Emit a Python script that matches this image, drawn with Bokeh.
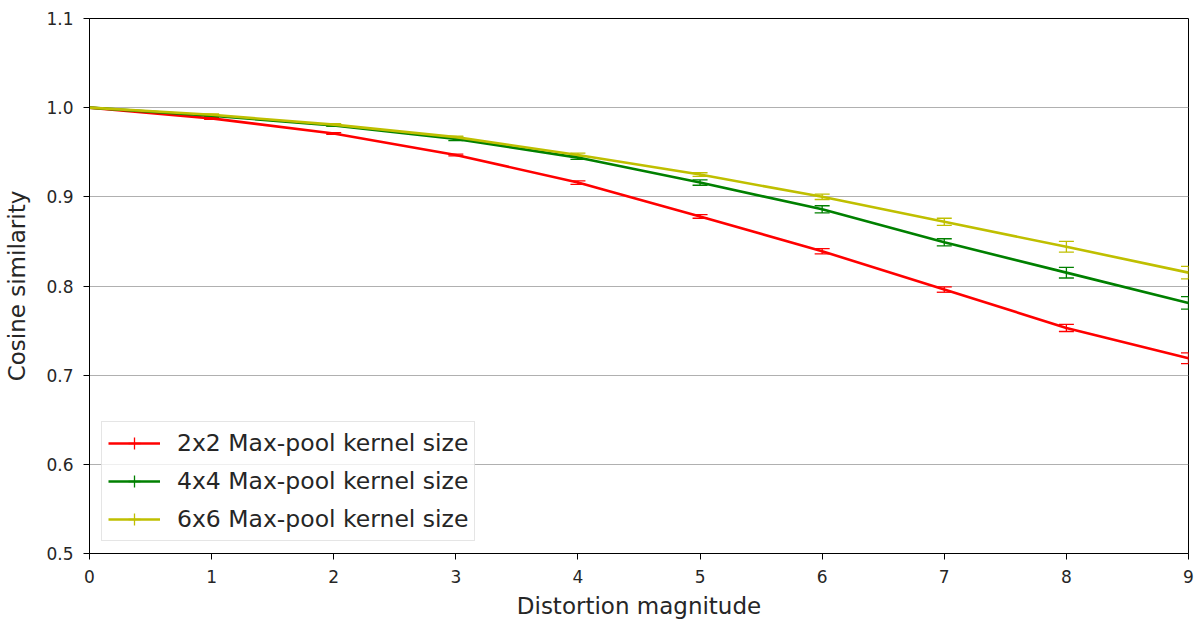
import numpy as np
from bokeh.plotting import figure
from bokeh.models import (ColumnDataSource, Whisker, TeeHead, Legend, LegendItem,
                          FixedTicker, NumeralTickFormatter, Range1d)
from bokeh.embed import file_html
from bokeh.resources import INLINE

x_vals = [0, 1, 2, 3, 4, 5, 6, 7, 8, 9]
labels = ["2x2 Max-pool kernel size", "4x4 Max-pool kernel size", "6x6 Max-pool kernel size"]
colors = ["#ff0000", "#008000", "#bfbf00"]
red_y = [1.000, 0.988, 0.971, 0.947, 0.916, 0.878, 0.839, 0.796, 0.753, 0.719]
red_err = [0.000, 0.001, 0.001, 0.001, 0.002, 0.002, 0.003, 0.003, 0.004, 0.006]
green_y = [1.000, 0.991, 0.980, 0.965, 0.944, 0.916, 0.886, 0.849, 0.815, 0.781]
green_err = [0.000, 0.001, 0.001, 0.002, 0.002, 0.003, 0.004, 0.004, 0.006, 0.007]
yellow_y = [1.000, 0.992, 0.981, 0.967, 0.947, 0.925, 0.900, 0.872, 0.844, 0.815]
yellow_err = [0.000, 0.001, 0.001, 0.001, 0.002, 0.002, 0.003, 0.004, 0.006, 0.007]
series_y = [red_y, green_y, yellow_y]
series_err = [red_err, green_err, yellow_err]
y_ticks = [0.5, 0.6, 0.7, 0.8, 0.9, 1.0, 1.1]
x_ticks = x_vals

FONT = "DejaVu Sans"

p = figure(width=1201, height=622, output_backend="svg", toolbar_location=None,
           x_range=Range1d(0, 9), y_range=Range1d(0.5, 1.1),
           min_border_left=89, min_border_right=13, min_border_top=18, min_border_bottom=69)
p.outline_line_color = "black"
p.outline_line_width = 1
p.background_fill_color = "white"
p.border_fill_color = "white"

p.xgrid.visible = False
p.ygrid.grid_line_color = "#b0b0b0"
p.ygrid.grid_line_width = 1.2

for ax in (p.xaxis[0], p.yaxis[0]):
    ax.axis_line_color = "black"
    ax.major_tick_line_color = "black"
    ax.major_tick_out = 6
    ax.major_tick_in = 0
    ax.minor_tick_line_color = None
    ax.major_label_text_font = FONT
    ax.major_label_text_font_size = "17px"
    ax.major_label_text_color = "#262626"
    ax.axis_label_text_font = FONT
    ax.axis_label_text_font_size = "23px"
    ax.axis_label_text_font_style = "normal"
    ax.axis_label_text_color = "#262626"

p.xaxis.ticker = FixedTicker(ticks=x_ticks)
p.yaxis.ticker = FixedTicker(ticks=y_ticks)
p.yaxis.formatter = NumeralTickFormatter(format="0.0")
p.xaxis.axis_label = "Distortion magnitude"
p.yaxis.axis_label = "Cosine similarity"
p.xaxis.major_label_standoff = 10
p.yaxis.major_label_standoff = 10
p.xaxis.axis_label_standoff = 7
p.yaxis.axis_label_standoff = 13

items = []
for lab, col, ys, errs in zip(labels, colors, series_y, series_err):
    up = [y + e for y, e in zip(ys, errs)]
    lo = [y - e for y, e in zip(ys, errs)]
    src = ColumnDataSource(dict(x=x_vals, y=ys, upper=up, lower=lo))
    ln = p.line("x", "y", source=src, line_color=col, line_width=2.6)
    w = Whisker(base="x", upper="upper", lower="lower", source=src,
                line_color=col, line_width=1.3,
                upper_head=TeeHead(size=15, line_color=col, line_width=1.3),
                lower_head=TeeHead(size=15, line_color=col, line_width=1.3))
    p.add_layout(w)
    dummy = p.scatter(x=[-100], y=[-100], marker="cross", size=26,
                      line_color=col, line_width=1.3)
    items.append(LegendItem(label=lab, renderers=[ln, dummy]))

legend = Legend(items=items, location="bottom_left")
legend.label_text_font = FONT
legend.label_text_font_size = "23.5px"
legend.label_text_color = "#262626"
legend.glyph_width = 52
legend.glyph_height = 30
legend.label_height = 30
legend.spacing = 8
legend.padding = 6
legend.margin = 12
legend.label_standoff = 17
legend.border_line_color = "#cccccc"
legend.border_line_width = 1
legend.background_fill_color = "white"
legend.background_fill_alpha = 0.8
p.add_layout(legend)

open("out.html", "w").write(file_html(p, INLINE))
